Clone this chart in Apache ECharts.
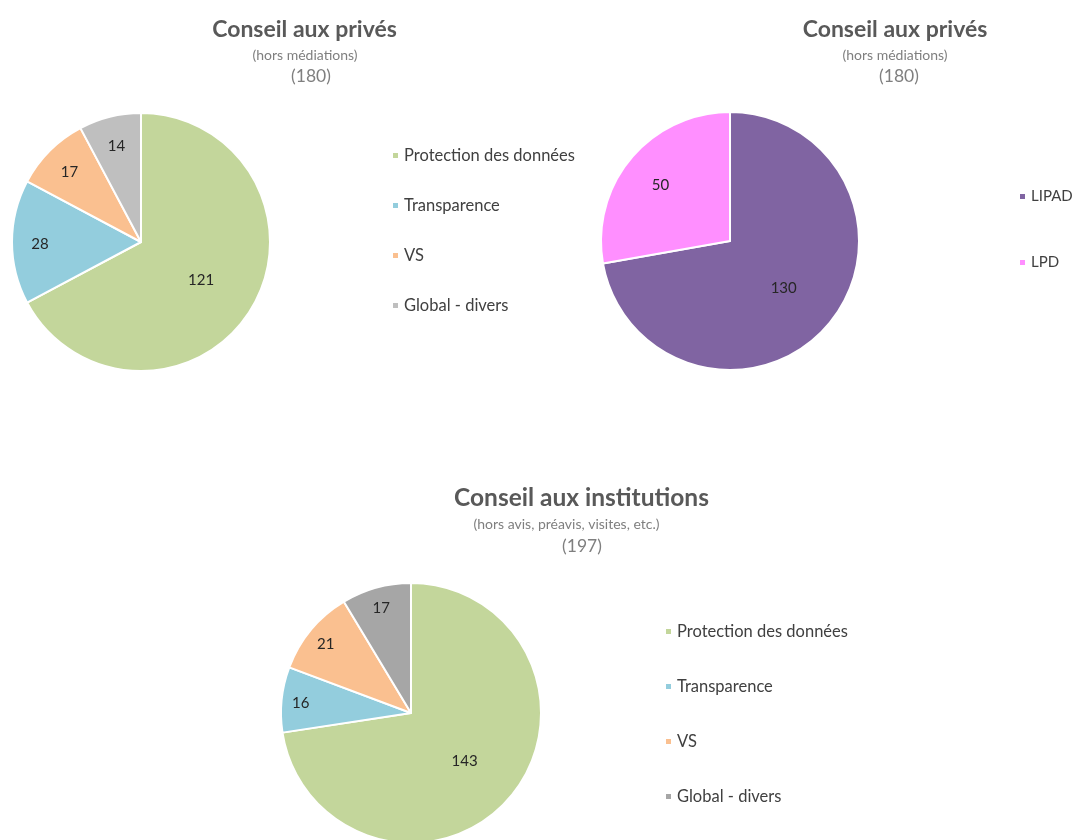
<!DOCTYPE html>
<html><head><meta charset="utf-8">
<script src="https://cdn.jsdelivr.net/npm/echarts@6/dist/echarts.min.js"></script>
<style>html,body{margin:0;padding:0;background:#fff}#c{width:1073px;height:840px}</style>
</head><body><div id="c"></div>
<script>
const themeCategories = ['Protection des données', 'Transparence', 'VS', 'Global - divers'];
const privesThemeValues = [121, 28, 17, 14];
const loiCategories = ['LIPAD', 'LPD'];
const privesLoiValues = [130, 50];
const institutionsThemeValues = [143, 16, 21, 17];

const titlePrives = 'Conseil aux privés';
const subPrives = '(hors médiations)';
const titleInst = 'Conseil aux institutions';
const subInst = '(hors avis, préavis, visites, etc.)';

const colorsTheme1 = ['#C3D69B', '#93CDDD', '#FAC090', '#BFBFBF'];
const colorsLoi = ['#8064A2', '#FF8FFF'];
const colorsTheme3 = ['#C3D69B', '#93CDDD', '#FAC090', '#A6A6A6'];

const FONT = 'Lato, "Open Sans", sans-serif';
const sum = a => a.reduce((s, v) => s + v, 0);

function buildData(names, values, colors, radius, smallFrac) {
  const total = sum(values);
  let cum = 0;
  return names.map((n, i) => {
    const share = values[i] / total;
    const mid = 2 * Math.PI * (cum + values[i] / 2) / total;
    cum += values[i];
    const f = share > 0.5 ? 0.52 : (share > 0.2 ? 0.68 : smallFrac);
    const d = (f - 0.5) * radius;
    return {
      name: n, value: values[i],
      itemStyle: { color: colors[i] },
      label: { offset: [Math.sin(mid) * d, -Math.cos(mid) * d + 2] }
    };
  });
}

function pieSeries(names, values, colors, center, radius, smallFrac) {
  return {
    type: 'pie', center: center, radius: radius, startAngle: 90, clockwise: true,
    avoidLabelOverlap: false, animation: false,
    itemStyle: { borderColor: '#fff', borderWidth: 2 },
    label: { show: true, position: 'inside', formatter: '{c}', color: '#262626', fontSize: 15, fontFamily: FONT },
    labelLine: { show: false },
    emphasis: { scale: false },
    data: buildData(names, values, colors, radius, smallFrac)
  };
}

function line(text, x, y, fs, lh, bold, color, bias) {
  return {
    text: text, left: x, top: y - lh / 2 + bias, textAlign: 'center', padding: 0,
    textStyle: { fontSize: fs, lineHeight: lh, fontWeight: bold ? 'bold' : 'normal', color: color, fontFamily: FONT }
  };
}

function titleLines(text, sub, values, xs, ys, titleSize) {
  return [
    line(text, xs[0], ys[0], titleSize, Math.round(titleSize + 1), true, '#595959', 1.5),
    line(sub, xs[1], ys[1], 14, 18, false, '#7F7F7F', 0),
    line('(' + sum(values) + ')', xs[2], ys[2], 17.5, 22, false, '#7F7F7F', 0)
  ];
}

function legendBlock(names, colors, left, top, gap, fs) {
  return {
    orient: 'vertical', left: left, top: top, itemGap: gap, icon: 'rect',
    itemWidth: 7, itemHeight: 7, selectedMode: false,
    textStyle: { fontSize: fs, lineHeight: 14, color: '#404040', fontFamily: FONT },
    data: names.map((n, i) => ({ name: n, itemStyle: { color: colors[i] } }))
  };
}

const chart = echarts.init(document.getElementById('c'), null, { renderer: 'canvas' });
chart.setOption({
  backgroundColor: '#fff',
  title: [].concat(
    titleLines(titlePrives, subPrives, privesThemeValues, [304.5, 305, 311], [28, 55, 76], 23),
    titleLines(titlePrives, subPrives, privesLoiValues, [895, 895, 899], [28, 55, 76], 23),
    titleLines(titleInst, subInst, institutionsThemeValues, [581.5, 566.5, 582], [497, 524, 546], 24.5)
  ),
  legend: [
    legendBlock(themeCategories, colorsTheme1, 386, 142, 33, 16.5),
    legendBlock(loiCategories, colorsLoi, 1013, 184, 51, 15),
    legendBlock(themeCategories, colorsTheme3, 659, 618, 38, 16.5)
  ],
  series: [
    pieSeries(themeCategories, privesThemeValues, colorsTheme1, [141, 242], 129, 0.76),
    pieSeries(loiCategories, privesLoiValues, colorsLoi, [730, 241], 129, 0.76),
    pieSeries(themeCategories, institutionsThemeValues, colorsTheme3, [411, 713], 130, 0.83)
  ]
});
</script></body></html>
